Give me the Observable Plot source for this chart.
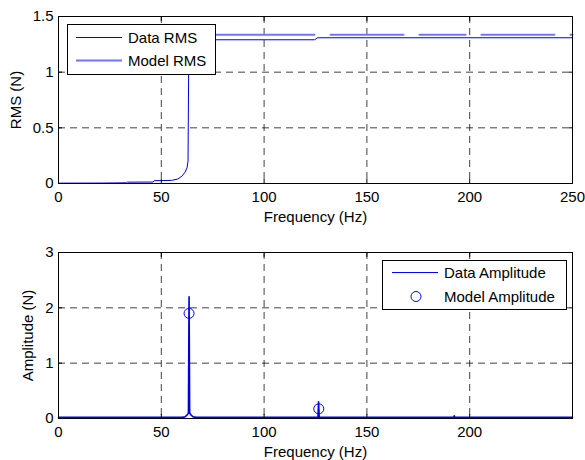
<!DOCTYPE html>
<html><head><meta charset="utf-8">
<script src="https://cdn.jsdelivr.net/npm/d3@7"></script>
<script src="https://cdn.jsdelivr.net/npm/@observablehq/plot@0.6"></script>
<style>
body{margin:0;background:#fff;font-family:"Liberation Sans",Arial,sans-serif;}
#wrap{position:relative;width:585px;height:460px;overflow:hidden;}
#wrap svg.plot{display:block;}
.leg{position:absolute;}
</style></head><body><div id="wrap"></div>
<script>
// ---- data ----
const rmsFreq  = [0, 22, 33, 33.5, 46, 46.5, 55, 58, 60, 61.5, 62.5, 63, 63.3, 63.6, 124.5, 126, 250];
const rmsData  = [0.003, 0.004, 0.006, 0.012, 0.013, 0.025, 0.028, 0.04, 0.065, 0.1, 0.14, 0.2, 1.0, 1.291, 1.291, 1.309, 1.309];
const modelRmsFreq = [63.6, 124.5, 128, 132.3, 167.8, 172, 175.6, 198, 202, 205.7, 241.2, 245, 249, 250];
const modelRms     = [1.336, 1.336, null, 1.336, 1.336, null, 1.336, 1.336, null, 1.336, 1.336, null, 1.336, 1.336];
const ampFreq = [0, 60, 61.5, 62.5, 63.2, 63.5, 63.8, 64.5, 65.5, 67, 126.2, 126.5, 126.8, 192.3, 192.5, 192.7, 250];
const ampData = [0.02, 0.02, 0.03, 0.06, 0.1, 2.2, 0.1, 0.06, 0.03, 0.02, 0.02, 0.3, 0.02, 0.02, 0.05, 0.02, 0.02];
const modelAmpFreq = [63.5, 126.6];
const modelAmp     = [1.90, 0.175];
const xTicksTop = [0, 50, 100, 150, 200, 250];
const xTicksBottom = [0, 50, 100, 150, 200];
const yTicksTop = [0, 0.5, 1, 1.5];
const yTicksBottom = [0, 1, 2, 3];
const labels = {x: "Frequency (Hz)", yTop: "RMS (N)", yBottom: "Amplitude (N)",
  legTop: ["Data RMS", "Model RMS"], legBottom: ["Data Amplitude", "Model Amplitude"]};

const dataBlue = "#0000dd", modelBlue = "#7373ff";
const rms = rmsFreq.map((f, i) => ({f, v: rmsData[i]}));
const mrms = modelRmsFreq.map((f, i) => ({f, v: modelRms[i]}));
const amp = ampFreq.map((f, i) => ({f, v: ampData[i]}));
const mamp = modelAmpFreq.map((f, i) => ({f, v: modelAmp[i]}));

const font = {fontFamily: '"Liberation Sans", Arial, sans-serif', fontSize: "15px", background: "#fff", color: "#000"};
const fmt = d => `${d}`;

function grids(xt, yt) {
  const gridStyle = {stroke: "#000", strokeOpacity: 0.75, strokeDasharray: "7,5"};
  return [
    Plot.gridX(xt.filter(d => d > 0 && d < 250), gridStyle),
    Plot.gridY(yt.slice(1, -1), gridStyle),
  ];
}
function frameAxes(xt, yt, ylab, yOff) {
  return [
    Plot.frame({stroke: "#000", strokeWidth: 1}),
    Plot.axisX(xt, {anchor: "bottom", tickSize: -4, tickPadding: 12, tickFormat: fmt, label: labels.x, labelAnchor: "center", labelArrow: "none", labelOffset: 38}),
    Plot.axisX(xt, {anchor: "top", tickSize: -4, tickFormat: () => "", label: null}),
    Plot.axisY(yt, {anchor: "left", tickSize: -4, tickPadding: 9, tickFormat: fmt, label: ylab, labelAnchor: "center", labelArrow: "none", labelOffset: yOff}),
    Plot.axisY(yt, {anchor: "right", tickSize: -4, tickFormat: () => "", label: null})
  ];
}

const p1 = Plot.plot({
  width: 585, height: 230, marginTop: 16, marginBottom: 47, marginLeft: 58, marginRight: 13,
  style: font,
  x: {domain: [0, 250]}, y: {domain: [0, 1.5]},
  marks: [
    ...grids(xTicksTop, yTicksTop),
    Plot.line(mrms, {x: "f", y: "v", stroke: modelBlue, strokeWidth: 2}),
    Plot.line(rms, {x: "f", y: "v", stroke: dataBlue, strokeWidth: 1}),
    ...frameAxes(xTicksTop, yTicksTop, labels.yTop, 48)
  ]
});
const p2 = Plot.plot({
  width: 585, height: 230, marginTop: 22, marginBottom: 42, marginLeft: 58, marginRight: 13,
  style: font,
  x: {domain: [0, 250]}, y: {domain: [0, 3]},
  marks: [
    ...grids(xTicksBottom, yTicksBottom),
    Plot.line(amp, {x: "f", y: "v", stroke: dataBlue, strokeWidth: 1.6}),
    Plot.dot(mamp, {x: "f", y: "v", r: 5, stroke: "#0000ff", fill: "none", strokeWidth: 1}),
    ...frameAxes(xTicksBottom, yTicksBottom, labels.yBottom, 36)
  ]
});
const wrap = document.getElementById("wrap");
wrap.appendChild(p1);
wrap.appendChild(p2);

function legend(left, top, w, h, entries) {
  const ns = "http://www.w3.org/2000/svg";
  const svg = document.createElementNS(ns, "svg");
  svg.setAttribute("class", "leg");
  svg.setAttribute("width", w + 1); svg.setAttribute("height", h + 1);
  svg.style.left = left + "px"; svg.style.top = top + "px";
  let html = `<rect x="0.5" y="0.5" width="${w}" height="${h}" fill="#fff" stroke="#000"/>`;
  for (const e of entries) {
    if (e.kind === "line") html += `<line x1="${e.x1}" x2="${e.x2}" y1="${e.y}" y2="${e.y}" stroke="${e.color}" stroke-width="${e.sw}"/>`;
    else html += `<circle cx="${e.cx}" cy="${e.y}" r="5" fill="none" stroke="${e.color}"/>`;
    html += `<text x="${e.tx}" y="${e.y}" dy="0.36em" font-family='"Liberation Sans", Arial, sans-serif' font-size="15">${e.text}</text>`;
  }
  svg.innerHTML = html;
  wrap.appendChild(svg);
}
legend(67, 24, 148, 50, [
  {kind: "line", x1: 9, x2: 55, y: 13.5, color: dataBlue, sw: 1, tx: 61, text: labels.legTop[0]},
  {kind: "line", x1: 9, x2: 55, y: 36.5, color: modelBlue, sw: 2, tx: 61, text: labels.legTop[1]}
]);
legend(382, 260, 184, 49, [
  {kind: "line", x1: 10, x2: 56, y: 12.5, color: "#0000ff", sw: 1, tx: 62, text: labels.legBottom[0]},
  {kind: "circle", cx: 34, y: 36.5, color: "#0000ff", tx: 62, text: labels.legBottom[1]}
]);
</script></body></html>
